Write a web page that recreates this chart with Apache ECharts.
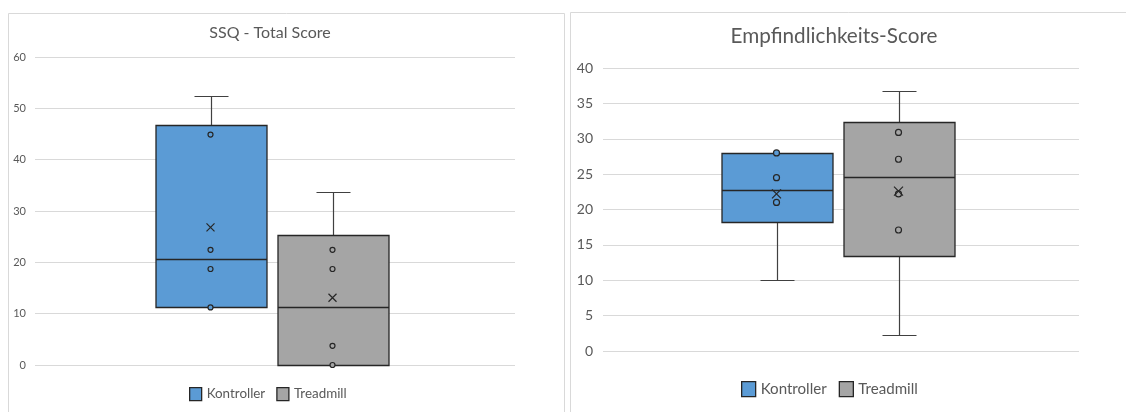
<!DOCTYPE html>
<html>
<head>
<meta charset="utf-8">
<script src="https://cdn.jsdelivr.net/npm/echarts@6/dist/echarts.min.js"></script>
<style>
html,body{margin:0;padding:0;background:#fff;}
#main{width:1126px;height:412px;}
</style>
</head>
<body>
<div id="main"></div>
<script>
// ---- Data ----
const seriesNames = ['Kontroller', 'Treadmill'];
const titles = ['SSQ - Total Score', 'Empfindlichkeits-Score'];

// Box stats [min, Q1, median, Q3, max]
const ssqKontrollerBox = [11.22, 11.22, 20.57, 46.75, 52.36];
const ssqTreadmillBox = [0, 0, 11.22, 25.25, 33.66];
const ssqKontrollerPoints = [11.22, 18.7, 22.44, 44.88];
const ssqTreadmillPoints = [0, 3.74, 18.7, 22.44];
const ssqMeans = [26.8, 13.1];

const empKontrollerBox = [10.0, 18.3, 22.8, 28.0, 28.0];
const empTreadmillBox = [2.3, 13.4, 24.6, 32.3, 36.8];
const empKontrollerPoints = [21.0, 24.5, 28.0];
const empTreadmillPoints = [17.1, 22.2, 27.1, 30.9];
const empMeans = [22.2, 22.6];

const ssqTicks = { min: 0, max: 60, interval: 10 };
const empTicks = { min: 0, max: 40, interval: 5 };

// ---- Styles ----
const colors = ['#5B9BD5', '#A5A5A5'];
const edge = '#262626';
const whisker = '#404040';
const offsets = [-64.5, 57.5];
const boxW = 111;
const capW = 34;
const font = 'Lato, "Open Sans", sans-serif';

function boxSeries(name, box, gi, si) {
  return {
    name: name,
    type: 'custom',
    xAxisIndex: gi, yAxisIndex: gi,
    itemStyle: { color: colors[si], borderColor: edge, borderWidth: 1 },
    encode: { x: 0, y: [1, 2, 3, 4, 5] },
    data: [[0].concat(box)],
    z: 2,
    renderItem: function (params, api) {
      const c = api.value(0);
      const p = [1, 2, 3, 4, 5].map(i => api.coord([c, api.value(i)]));
      const x = Math.round(p[0][0] + offsets[si]) + 0.5;
      const y = p.map(q => Math.round(q[1]) + 0.5);
      const L = x - boxW / 2, R = x + boxW / 2;
      const lineStyle = { stroke: whisker, lineWidth: 1.2 };
      const children = [];
      if (y[4] < y[3]) {
        children.push({ type: 'line', shape: { x1: x, y1: y[4], x2: x, y2: y[3] }, style: lineStyle });
        children.push({ type: 'line', shape: { x1: x - capW / 2, y1: y[4], x2: x + capW / 2, y2: y[4] }, style: lineStyle });
      }
      if (y[0] > y[1]) {
        children.push({ type: 'line', shape: { x1: x, y1: y[1], x2: x, y2: y[0] }, style: lineStyle });
        children.push({ type: 'line', shape: { x1: x - capW / 2, y1: y[0], x2: x + capW / 2, y2: y[0] }, style: lineStyle });
      }
      children.push({ type: 'rect', shape: { x: L, y: y[3], width: boxW, height: y[1] - y[3] },
        style: { fill: colors[si], stroke: edge, lineWidth: 1.3 } });
      children.push({ type: 'line', shape: { x1: L, y1: y[2], x2: R, y2: y[2] }, style: { stroke: edge, lineWidth: 1.3 } });
      return { type: 'group', children: children };
    }
  };
}

function pointSeries(name, pts, gi, si, size) {
  return {
    name: name,
    type: 'scatter',
    xAxisIndex: gi, yAxisIndex: gi,
    symbol: 'circle',
    symbolSize: size,
    symbolOffset: [offsets[si], 0],
    itemStyle: { color: colors[si], borderColor: edge, borderWidth: 1.2, opacity: 1 },
    data: pts.map(v => [0, v]),
    z: 5,
    silent: true
  };
}

function meanSeries(name, mean, gi, si, size) {
  return {
    name: name,
    type: 'scatter',
    xAxisIndex: gi, yAxisIndex: gi,
    symbol: 'path://M0,0L10,10M10,0L0,10',
    symbolSize: size,
    symbolOffset: [offsets[si], 0],
    itemStyle: { color: 'none', borderColor: edge, borderWidth: 1.2, opacity: 1 },
    data: [[0, mean]],
    z: 6,
    silent: true
  };
}

function yAxis(gi, t, fs, margin) {
  return {
    type: 'value', gridIndex: gi, min: t.min, max: t.max, interval: t.interval,
    axisLine: { show: false }, axisTick: { show: false },
    axisLabel: { color: '#595959', fontSize: fs, fontFamily: font, margin: margin },
    splitLine: { lineStyle: { color: '#D9D9D9', width: 1 } }
  };
}
function xAxis(gi) {
  return {
    type: 'category', gridIndex: gi, data: [''],
    axisLine: { show: false }, axisTick: { show: false }, axisLabel: { show: false },
    splitLine: { show: false }
  };
}

const legendData = seriesNames.map((n, i) => ({
  name: n, icon: 'rect',
  itemStyle: { color: colors[i], borderColor: edge, borderWidth: 1.3 }
}));

const option = {
  animation: false,
  backgroundColor: '#fff',
  graphic: [
    { type: 'rect', shape: { x: 8.5, y: 13.5, width: 556, height: 420 }, style: { fill: 'none', stroke: '#D9D9D9', lineWidth: 1 }, silent: true },
    { type: 'rect', shape: { x: 570.5, y: 12.5, width: 600, height: 420 }, style: { fill: 'none', stroke: '#D9D9D9', lineWidth: 1 }, silent: true }
  ],
  title: [
    { text: titles[0], left: 265, top: 20, textAlign: 'center',
      textStyle: { color: '#595959', fontSize: 16, fontWeight: 'normal', fontFamily: font } },
    { text: titles[1], left: 829, top: 21, textAlign: 'center',
      textStyle: { color: '#595959', fontSize: 20.7, fontWeight: 'normal', fontFamily: font } }
  ],
  legend: [
    { data: legendData, left: 184, top: 382, itemWidth: 12, itemHeight: 13, itemGap: 11,
      textStyle: { color: '#595959', fontSize: 13.4, fontFamily: font } },
    { data: legendData, left: 736, top: 376, itemWidth: 14, itemHeight: 15, itemGap: 12,
      textStyle: { color: '#595959', fontSize: 15.1, fontFamily: font } }
  ],
  grid: [
    { left: 35, top: 57, width: 480, height: 308 },
    { left: 603, top: 68, width: 476, height: 283 }
  ],
  xAxis: [xAxis(0), xAxis(1)],
  yAxis: [yAxis(0, ssqTicks, 11, 9), yAxis(1, empTicks, 14, 10)],
  series: [
    boxSeries(seriesNames[0], ssqKontrollerBox, 0, 0),
    boxSeries(seriesNames[1], ssqTreadmillBox, 0, 1),
    pointSeries(seriesNames[0], ssqKontrollerPoints, 0, 0, 5),
    pointSeries(seriesNames[1], ssqTreadmillPoints, 0, 1, 5),
    meanSeries(seriesNames[0], ssqMeans[0], 0, 0, 8),
    meanSeries(seriesNames[1], ssqMeans[1], 0, 1, 8),
    boxSeries(seriesNames[0], empKontrollerBox, 1, 0),
    boxSeries(seriesNames[1], empTreadmillBox, 1, 1),
    pointSeries(seriesNames[0], empKontrollerPoints, 1, 0, 6),
    pointSeries(seriesNames[1], empTreadmillPoints, 1, 1, 6),
    meanSeries(seriesNames[0], empMeans[0], 1, 0, 9),
    meanSeries(seriesNames[1], empMeans[1], 1, 1, 9)
  ]
};

const chart = echarts.init(document.getElementById('main'), null, { renderer: 'canvas' });
chart.setOption(option);
</script>
</body>
</html>
